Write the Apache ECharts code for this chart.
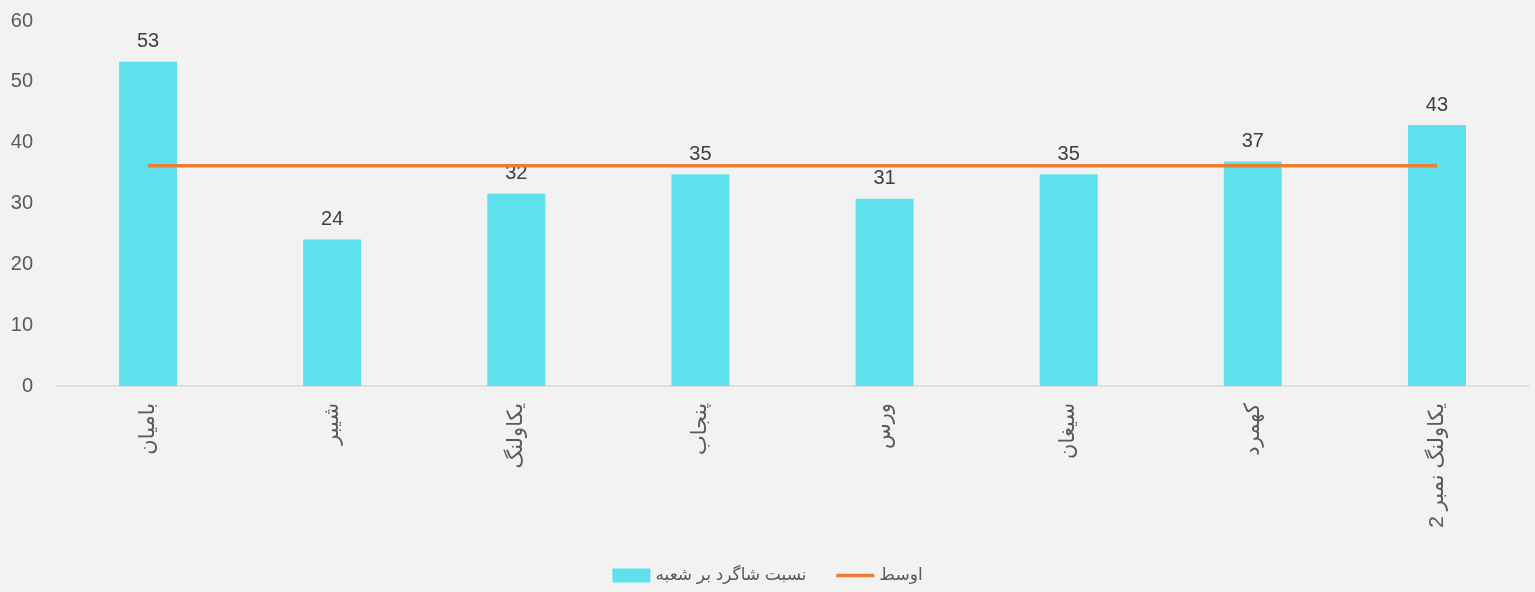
<!DOCTYPE html>
<html>
<head>
<meta charset="utf-8">
<script src="https://cdn.jsdelivr.net/npm/echarts@6/dist/echarts.min.js"></script>
<style>
  html, body { margin: 0; padding: 0; background: #f2f2f2; }
  #chart { width: 1535px; height: 592px; }
</style>
</head>
<body>
<div id="chart"></div>
<script>
// داده ها
var schools = ['بامیان', 'شیبر', 'یکاولنگ', 'پنجاب', 'ورس', 'سیغان', 'کهمرد', 'یکاولنگ نمبر 2'];
var ratio = [53.3, 24.1, 31.6, 34.8, 30.8, 34.8, 36.9, 42.9];
var average = [36.2, 36.2, 36.2, 36.2, 36.2, 36.2, 36.2, 36.2];
var yTicks = { min: 0, max: 60, interval: 10 };

var fontFam = "'Liberation Sans', 'DejaVu Sans', sans-serif";

var chart = echarts.init(document.getElementById('chart'));
chart.setOption({
  backgroundColor: '#f2f2f2',
  animation: false,
  textStyle: { fontFamily: fontFam },
  grid: { left: 56, right: 6, top: 21, bottom: 206 },
  legend: {
    bottom: 3,
    left: 'center',
    itemGap: 28,
    itemWidth: 38,
    itemHeight: 14,
    textStyle: { color: '#595959', fontSize: 17, fontFamily: fontFam },
    data: [
      { name: 'نسبت شاگرد بر شعبه', icon: 'rect' },
      { name: 'اوسط', itemStyle: { opacity: 0 }, lineStyle: { width: 3.5, color: '#ed7d31' } }
    ]
  },
  xAxis: {
    type: 'category',
    data: schools,
    axisLine: { lineStyle: { color: '#d9d9d9', width: 1.5 } },
    axisTick: { show: false },
    axisLabel: {
      rotate: 90,
      margin: 17,
      color: '#595959',
      fontSize: 21,
      interval: 0
    }
  },
  yAxis: {
    type: 'value',
    min: yTicks.min,
    max: yTicks.max,
    interval: yTicks.interval,
    axisLine: { show: false },
    axisTick: { show: false },
    splitLine: { show: false },
    axisLabel: { color: '#595959', fontSize: 20, margin: 23 }
  },
  series: [
    {
      name: 'نسبت شاگرد بر شعبه',
      type: 'bar',
      data: ratio,
      barWidth: 58,
      itemStyle: { color: '#5ee1ec' },
      label: {
        show: true,
        position: 'top',
        distance: 10,
        color: '#404040',
        fontSize: 20,
        formatter: function (p) { return Math.round(p.value); }
      }
    },
    {
      name: 'اوسط',
      type: 'line',
      data: average,
      symbol: 'none',
      lineStyle: { color: '#ed7d31', width: 3.5 },
      itemStyle: { color: '#ed7d31' }
    }
  ]
});
</script>
</body>
</html>
